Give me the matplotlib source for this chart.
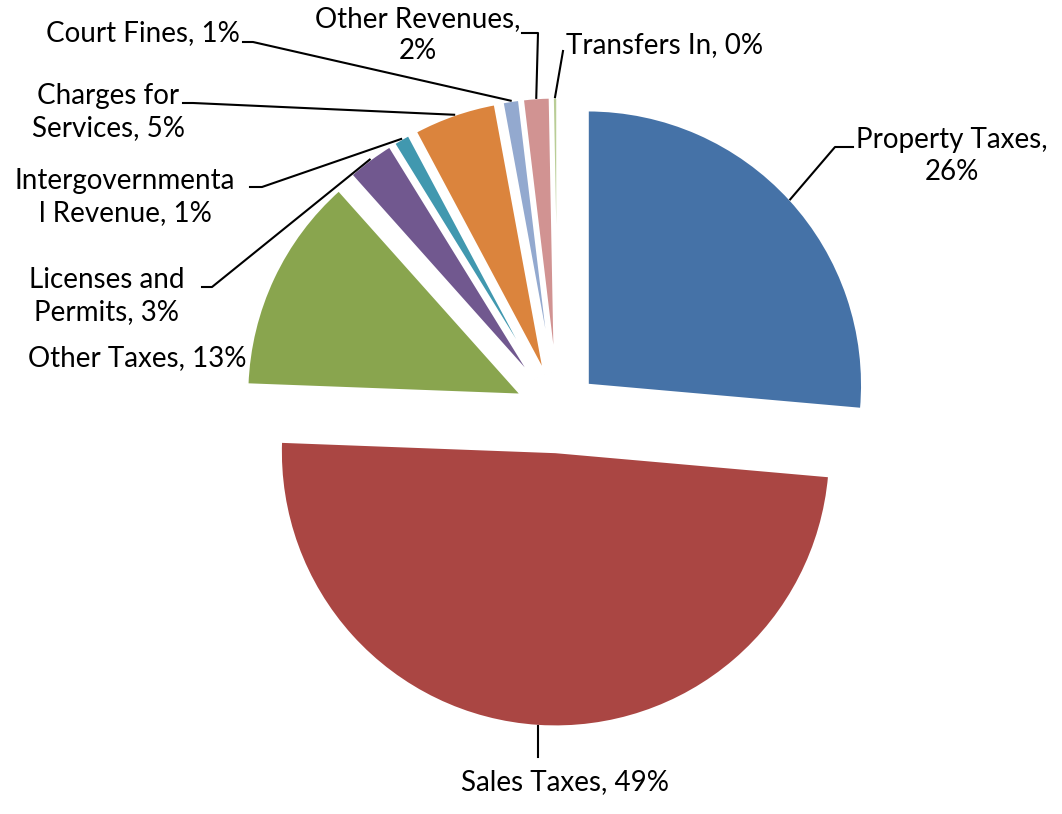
import numpy as np
import matplotlib
matplotlib.use("Agg")
import matplotlib.pyplot as plt

# revenue shares (percent)
categories = ['Property Taxes', 'Sales Taxes', 'Other Taxes', 'Licenses and Permits',
              'Intergovernmental Revenue', 'Charges for Services', 'Court Fines',
              'Other Revenues', 'Transfers In']
shares = [26.4, 49.2, 12.8, 2.8, 1.0, 4.9, 1.0, 1.6, 0.3]
label_text = ['Property Taxes,\n{}%', 'Sales Taxes, {}%', 'Other Taxes, {}%',
              'Licenses and\nPermits, {}%', 'Intergovernmenta\nl Revenue, {}%',
              'Charges for\nServices, {}%', 'Court Fines, {}%', 'Other Revenues,\n{}%',
              'Transfers In, {}%']
colors = ['#4572A7', '#AA4643', '#89A54E', '#71588F', '#4198AF',
          '#DB843D', '#93A9CF', '#D19392', '#B9CD96']

W, H = 1062, 814
CX, CY, R = 558, 412, 275   # pie centre / radius in pixels


def px(x, y):
    return ((x - CX) / R, (CY - y) / R)


# label centre, leader end at the label, elbow point (pixels)
label_pos = [(952, 156), (565, 782), (137, 358), (107, 296), (125, 197),
             (108, 112), (143, 33), (418, 35), (665, 45)]
leader = [((853, 147), (835, 147)), ('v', 757), None, ((202, 287), (212, 287)),
          ((250, 187), (262, 187)), ((183, 103), (193, 103)), ((243, 42), (253, 42)),
          ((522, 33), (538, 33)), ((563, 51), (563, 51))]

plt.rcParams['font.family'] = ['Lato', 'DejaVu Sans']
fig = plt.figure(figsize=(W / 100, H / 100), dpi=100)
ax = fig.add_axes([0, 0, 1, 1])
ax.axis('off')

wedges, _ = ax.pie(shares, colors=colors, startangle=90, counterclock=False,
                   explode=[0.145] * len(shares), radius=1,
                   wedgeprops=dict(edgecolor='white', linewidth=2))
ax.set_aspect('auto')
ax.set_xlim(-CX / R, (W - CX) / R)
ax.set_ylim(-(H - CY) / R, CY / R)

total = sum(shares)
for i, w in enumerate(wedges):
    pct = int(round(shares[i] / total * 100))
    tx, ty = px(*label_pos[i])
    ax.text(tx, ty, label_text[i].format(pct), ha='center', va='center',
            fontsize=20, linespacing=1.25, color='black')
    if leader[i] is None:
        continue
    mid = np.deg2rad((w.theta1 + w.theta2) / 2)
    ax_, ay_ = w.center[0] + w.r * np.cos(mid), w.center[1] + w.r * np.sin(mid)
    if leader[i][0] == 'v':
        ex, ey = ax_, px(0, leader[i][1])[1]
        ax.plot([ax_, ex], [ay_, ey], color='black', lw=1.5)
    else:
        end = px(*leader[i][0])
        elb = px(*leader[i][1])
        ax.plot([ax_, elb[0], end[0]], [ay_, elb[1], end[1]], color='black', lw=1.5)

fig.savefig('out.png', dpi=100)
